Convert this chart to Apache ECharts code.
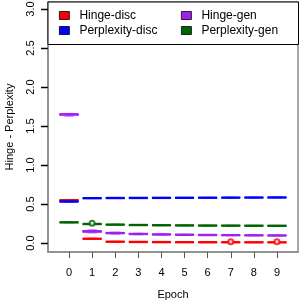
<!DOCTYPE html>
<html>
<head>
<meta charset="utf-8">
<script src="https://cdn.jsdelivr.net/npm/echarts@6/dist/echarts.min.js"></script>
<style>html,body{margin:0;padding:0;background:#fff}#c{width:300px;height:300px}</style>
</head>
<body>
<div id="c"></div>
<script>
// ---- data ----
const epochs = [0, 1, 2, 3, 4, 5, 6, 7, 8, 9];
const yTicks = [0, 0.5, 1, 1.5, 2, 2.5, 3];
const seriesNames = ['Hinge-disc', 'Perplexity-disc', 'Hinge-gen', 'Perplexity-gen'];
// each entry: [min, q1, median, q3, max] per epoch
const hingeDisc = [
  [0.542, 0.546, 0.549, 0.552, 0.556],
  [0.048, 0.052, 0.055, 0.058, 0.062],
  [0.011, 0.015, 0.017, 0.019, 0.023],
  [0.009, 0.012, 0.014, 0.016, 0.019],
  [0.008, 0.010, 0.012, 0.014, 0.017],
  [0.007, 0.009, 0.011, 0.013, 0.015],
  [0.006, 0.008, 0.010, 0.012, 0.014],
  [0.006, 0.008, 0.010, 0.011, 0.013],
  [0.005, 0.007, 0.009, 0.011, 0.013],
  [0.005, 0.007, 0.009, 0.010, 0.012]
];
const perplexityDisc = [
  [0.526, 0.529, 0.532, 0.535, 0.538],
  [0.570, 0.573, 0.575, 0.577, 0.580],
  [0.572, 0.575, 0.577, 0.579, 0.582],
  [0.573, 0.576, 0.578, 0.580, 0.583],
  [0.574, 0.577, 0.579, 0.581, 0.584],
  [0.575, 0.578, 0.580, 0.582, 0.585],
  [0.576, 0.579, 0.581, 0.583, 0.586],
  [0.577, 0.580, 0.582, 0.584, 0.587],
  [0.578, 0.581, 0.583, 0.585, 0.588],
  [0.579, 0.582, 0.584, 0.586, 0.589]
];
const hingeGen = [
  [1.625, 1.638, 1.650, 1.655, 1.662],
  [0.128, 0.138, 0.150, 0.160, 0.170],
  [0.114, 0.121, 0.128, 0.134, 0.140],
  [0.106, 0.111, 0.116, 0.121, 0.126],
  [0.102, 0.106, 0.110, 0.114, 0.118],
  [0.099, 0.103, 0.106, 0.110, 0.113],
  [0.096, 0.100, 0.103, 0.107, 0.110],
  [0.094, 0.098, 0.101, 0.104, 0.107],
  [0.092, 0.096, 0.099, 0.102, 0.105],
  [0.090, 0.094, 0.097, 0.100, 0.103]
];
const perplexityGen = [
  [0.259, 0.262, 0.265, 0.268, 0.271],
  [0.238, 0.241, 0.244, 0.246, 0.249],
  [0.230, 0.233, 0.236, 0.238, 0.241],
  [0.225, 0.228, 0.231, 0.233, 0.236],
  [0.222, 0.225, 0.228, 0.230, 0.233],
  [0.220, 0.223, 0.226, 0.228, 0.231],
  [0.218, 0.221, 0.224, 0.226, 0.229],
  [0.217, 0.220, 0.223, 0.225, 0.228],
  [0.216, 0.219, 0.222, 0.224, 0.227],
  [0.215, 0.218, 0.221, 0.223, 0.226]
];
// outliers: [epoch, value]
const hingeDiscOutliers = [[7, 0.016], [9, 0.015]];
const perplexityGenOutliers = [[1, 0.252]];
const colors = ['#FF0000', '#0000FF', '#A020F0', '#006400'];
const fills = ['rgba(255,0,0,0.35)', 'rgba(0,0,255,0.35)', 'rgba(160,32,240,0.35)', 'rgba(0,100,0,0.35)'];

// ---- chart ----
const BOX_HALF = 0.41;
const X_MIN = -0.91, X_MAX = 9.91, Y_MIN = -0.115, Y_MAX = 3.09;
const FONT = 'Liberation Sans, Arial, Helvetica, sans-serif';

function boxSeries(idx, data) {
  const color = colors[idx], fill = fills[idx];
  return {
    type: 'custom',
    name: seriesNames[idx],
    itemStyle: { color: color },
    encode: { x: 0, y: [1, 2, 3, 4, 5] },
    data: data.map((d, i) => [epochs[i]].concat(d)),
    z: 2 + idx,
    renderItem: function (params, api) {
      const x = api.value(0);
      const mn = api.value(1), q1 = api.value(2), md = api.value(3), q3 = api.value(4), mx = api.value(5);
      const xl = api.coord([x - BOX_HALF, md])[0];
      const xr = api.coord([x + BOX_HALF, md])[0];
      const xc = api.coord([x, md])[0];
      const cl = api.coord([x - BOX_HALF / 2, md])[0];
      const cr = api.coord([x + BOX_HALF / 2, md])[0];
      const Y = v => api.coord([x, v])[1];
      return {
        type: 'group',
        children: [
          { type: 'line', shape: { x1: xc, y1: Y(q3), x2: xc, y2: Y(mx) }, style: { stroke: color, lineWidth: 1, lineDash: [2, 2] } },
          { type: 'line', shape: { x1: xc, y1: Y(q1), x2: xc, y2: Y(mn) }, style: { stroke: color, lineWidth: 1, lineDash: [2, 2] } },
          { type: 'line', shape: { x1: cl, y1: Y(mx), x2: cr, y2: Y(mx) }, style: { stroke: color, lineWidth: 1, opacity: 0.6 } },
          { type: 'line', shape: { x1: cl, y1: Y(mn), x2: cr, y2: Y(mn) }, style: { stroke: color, lineWidth: 1, opacity: 0.6 } },
          { type: 'rect', shape: { x: xl, y: Y(q3), width: xr - xl, height: Y(q1) - Y(q3) }, style: { fill: fill, stroke: color, lineWidth: 0.8 } },
          { type: 'line', shape: { x1: xl, y1: Y(md), x2: xr, y2: Y(md) }, style: { stroke: color, lineWidth: 2.4 } }
        ]
      };
    }
  };
}

// y-axis tick marks drawn through the axis scale (left edge of the grid, pointing outward)
const yTickSeries = {
  type: 'custom',
  name: 'yticks',
  clip: false,
  silent: true,
  z: 30,
  encode: { x: 0, y: 1 },
  data: yTicks.map(v => [X_MIN, v]),
  renderItem: function (params, api) {
    const p = api.coord([api.value(0), api.value(1)]);
    const yy = Math.round(p[1]) + 0.5;
    return { type: 'line', z2: 100, shape: { x1: p[0] - 7, y1: yy, x2: p[0] - 0.5, y2: yy }, style: { stroke: '#000', lineWidth: 1.5 } };
  }
};

const chart = echarts.init(document.getElementById('c'), null, { renderer: 'canvas' });
const legendCommon = {
  orient: 'vertical',
  top: 9,
  padding: 0,
  itemGap: 2,
  itemWidth: 10,
  itemHeight: 8,
  icon: 'rect',
  itemStyle: { borderColor: '#000', borderWidth: 0.8 },
  textStyle: { fontFamily: FONT, fontSize: 12, color: '#000', lineHeight: 13, padding: [0, 0, 0, 5] },
  z: 20
};
chart.setOption({
  animation: false,
  backgroundColor: '#fff',
  grid: { left: 48, right: 2, top: 2, bottom: 48, show: true, borderColor: '#8c8c8c', borderWidth: 1.5, backgroundColor: 'transparent', outerBoundsMode: 'none', containLabel: false },
  graphic: [{
    type: 'rect', z: 10, left: 47.5, top: 1.5,
    shape: { width: 250.5, height: 42.5 },
    style: { fill: '#fff', stroke: '#000', lineWidth: 1 }
  }],
  legend: [
    Object.assign({}, legendCommon, { left: 59, data: [seriesNames[0], seriesNames[1]] }),
    Object.assign({}, legendCommon, { left: 181, data: [seriesNames[2], seriesNames[3]] })
  ],
  xAxis: {
    type: 'value', min: X_MIN, max: X_MAX,
    name: 'Epoch', nameLocation: 'middle', nameGap: 37,
    nameTextStyle: { fontFamily: FONT, fontSize: 11, color: '#000' },
    axisLine: { show: true, onZero: false, lineStyle: { color: '#8c8c8c', width: 1.5 } },
    splitLine: { show: false },
    axisTick: { show: true, length: 6, lineStyle: { color: '#555', width: 1 }, customValues: epochs },
    axisLabel: { fontFamily: FONT, fontSize: 11, color: '#000', margin: 15, customValues: epochs, formatter: v => String(v) }
  },
  yAxis: {
    type: 'value', min: Y_MIN, max: Y_MAX,
    name: 'Hinge - Perplexity', nameLocation: 'middle', nameGap: 33,
    nameTextStyle: { fontFamily: FONT, fontSize: 11, color: '#000' },
    axisLine: { show: true, onZero: false, lineStyle: { color: '#8c8c8c', width: 1.5 } },
    splitLine: { show: false },
    axisTick: { show: true, inside: false, length: 6, lineStyle: { color: '#111', width: 1 }, customValues: yTicks },
    axisLabel: { fontFamily: FONT, fontSize: 11, color: '#000', margin: 12, rotate: 90, customValues: yTicks, formatter: v => Number(v).toFixed(1) }
  },
  series: [
    boxSeries(0, hingeDisc),
    boxSeries(1, perplexityDisc),
    boxSeries(2, hingeGen),
    boxSeries(3, perplexityGen),
    { type: 'scatter', name: 'hd-out', data: hingeDiscOutliers, symbol: 'emptyCircle', symbolSize: 5, itemStyle: { color: colors[0], borderWidth: 1 }, z: 8 },
    { type: 'scatter', name: 'pg-out', data: perplexityGenOutliers, symbol: 'emptyCircle', symbolSize: 5, itemStyle: { color: colors[3], borderWidth: 1 }, z: 8 },
    yTickSeries
  ]
});
</script>
</body>
</html>
